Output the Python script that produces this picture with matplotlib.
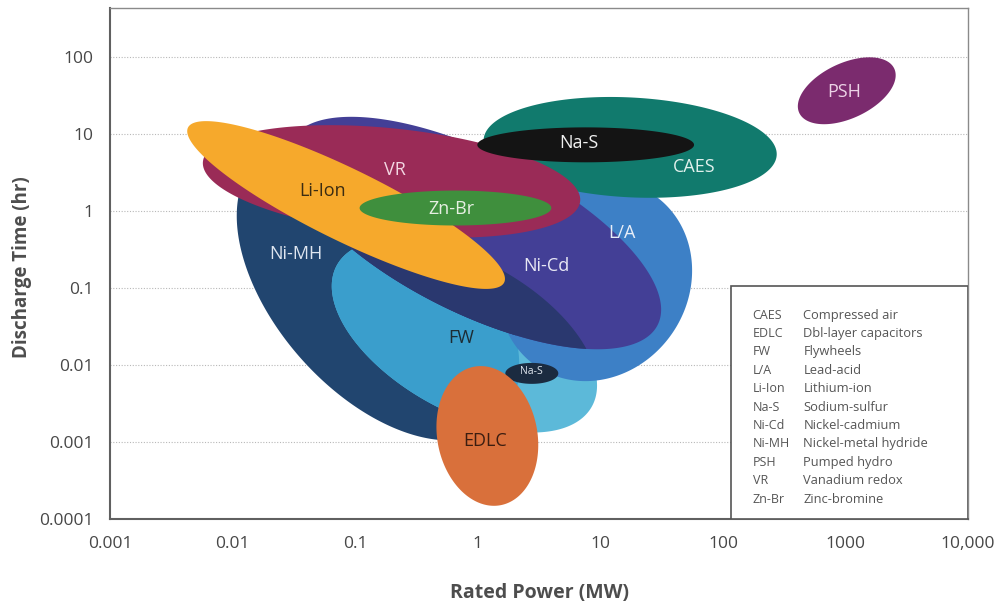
import numpy as np
import matplotlib
matplotlib.use("Agg")
import matplotlib.pyplot as plt
from matplotlib.patches import Rectangle

plt.rcParams['font.family'] = ['Open Sans', 'DejaVu Sans']

# ---------------- data ----------------
# technology regions: centre power (MW), centre discharge time (hr),
# semi-axes (in decades of power), tilt (deg, counter-clockwise)
techs       = ["L/A", "Ni-Cd", "Ni-MH", "FW", "CAES", "VR", "Li-Ion", "Zn-Br", "Na-S", "Na-S small", "EDLC", "PSH"]
power_c     = [9.08,  0.937,  0.1535,  0.778,  17.5,  0.198, 0.0843,  0.658,  7.59,   2.76,   1.197,  1023]
time_c      = [0.125, 0.519,  0.0925,  0.0240, 6.73,  2.43,  1.20,    1.097,  7.26,   0.0078, 0.0012, 36.6]
major_dec   = [0.847, 1.673,  1.455,   1.189,  1.197, 1.547, 1.436,   0.782,  0.884,  0.216,  0.575,  0.4275]
minor_dec   = [0.761, 0.650,  0.837,   0.616,  0.407, 0.432, 0.293,   0.1425, 0.1425, 0.0855, 0.408,  0.2256]
tilt_deg    = [55,    -26.6,  -48.3,   -29,    -3,    -6,    -26.1,   0,      0,      0,      -79,    25]

# label anchor points (power MW, time hr)
label_text  = ["L/A", "Ni-Cd", "Ni-MH", "FW", "CAES", "VR", "Li-Ion", "Zn-Br", "Na-S", "Na-S", "EDLC", "PSH"]
label_power = [15.0,  3.62,   0.0328,  0.735, 58,    0.213, 0.0543,  0.610,  6.71,   2.76,    1.15,    966]
label_time  = [0.526, 0.196,  0.281,   0.0226, 3.70, 3.38,  1.85,    1.08,   7.59,   0.00815, 0.00103, 35.0]

x_ticks = [0.001, 0.01, 0.1, 1, 10, 100, 1000, 10000]
x_ticklabels = ["0.001", "0.01", "0.1", "1", "10", "100", "1000", "10,000"]
y_ticks = [0.0001, 0.001, 0.01, 0.1, 1, 10, 100]
y_ticklabels = ["0.0001", "0.001", "0.01", "0.1", "1", "10", "100"]

legend_abbr = ["CAES", "EDLC", "FW", "L/A", "Li-Ion", "Na-S", "Ni-Cd", "Ni-MH", "PSH", "VR", "Zn-Br"]
legend_desc = ["Compressed air", "Dbl-layer capacitors", "Flywheels", "Lead-acid", "Lithium-ion",
               "Sodium-sulfur", "Nickel-cadmium", "Nickel-metal hydride", "Pumped hydro",
               "Vanadium redox", "Zinc-bromine"]

# ---------------- styles ----------------
fill_colors = {"L/A": '#3d80c6', "Ni-Cd": '#433f96', "Ni-MH": '#21456f', "FW": '#5cb9d9',
               "CAES": '#117a6d', "VR": '#9a2b57', "Li-Ion": '#f6a92c', "Zn-Br": '#3f8f3d',
               "Na-S": '#141414', "Na-S small": '#1b2b40', "EDLC": '#d9703b', "PSH": '#7b2b6e'}
overlap_fw_nimh = '#3a9ecc'    # flywheel area lying over Ni-MH
overlap_dark = '#2a386f'       # Ni-Cd area lying over FW / Ni-MH
label_colors = ['#e8eef8', '#e8e8f4', '#dfe6f0', '#1d2c33', '#e0f0ec', '#f3d6e2',
                '#3b2c12', '#e6efe2', '#f0f0f0', '#e0e6ee', '#3b1d10', '#ecd3e6']
label_sizes = [13, 13, 13, 13, 13, 13, 13, 13, 13, 7.5, 13, 13]

XLIM = (1e-3, 1e4)
YLIM = (1e-4, 10 ** 2.638)

fig = plt.figure(figsize=(9.99, 6.05), dpi=100)
ax_rect = [0.1101, 0.1421, 0.859, 0.8446]
ax = fig.add_axes(ax_rect)
ax.set_xscale('log')
ax.set_yscale('log')
ax.set_xlim(*XLIM)
ax.set_ylim(*YLIM)

# display length of one decade in x and in y (to draw undistorted tilted ellipses)
w_in = fig.get_figwidth() * ax_rect[2]
h_in = fig.get_figheight() * ax_rect[3]
ratio = (w_in / np.log10(XLIM[1] / XLIM[0])) / (h_in / np.log10(YLIM[1] / YLIM[0]))

t = np.linspace(0, 2 * np.pi, 600)
shape = {}
for i, name in enumerate(techs):
    th = np.deg2rad(tilt_deg[i])
    u = major_dec[i] * np.cos(t)
    v = minor_dec[i] * np.sin(t)
    X = u * np.cos(th) - v * np.sin(th)
    Y = u * np.sin(th) + v * np.cos(th)
    shape[name] = (10 ** (np.log10(power_c[i]) + X), 10 ** (np.log10(time_c[i]) + Y * ratio))

z = [2.0]
def draw(name, color=None, clip=None):
    z[0] += 0.01
    p = ax.fill(*shape[name], color=color or fill_colors[name], lw=0, zorder=z[0])[0]
    if clip is not None:
        p.set_clip_path(clip)
    return p

p_nimh = draw("Ni-MH")
p_fw = draw("FW")
draw("FW", overlap_fw_nimh, clip=p_nimh)
draw("L/A")
p_nicd = draw("Ni-Cd")
draw("FW", overlap_dark, clip=p_nicd)
draw("Ni-MH", overlap_dark, clip=p_nicd)
for name in ["CAES", "VR", "Li-Ion", "Zn-Br", "Na-S", "Na-S small", "EDLC", "PSH"]:
    draw(name)

for i in range(len(label_text)):
    ax.text(label_power[i], label_time[i], label_text[i], color=label_colors[i],
            fontsize=label_sizes[i], ha='center', va='center', zorder=3)

# grid
for yv in y_ticks[1:]:
    ax.axhline(yv, color='#b8b8b8', lw=0.8, ls=(0, (1, 1.5)), zorder=1)

# axes styling
ax.set_xticks(x_ticks)
ax.set_xticklabels(x_ticklabels)
ax.set_yticks(y_ticks)
ax.set_yticklabels(y_ticklabels)
ax.minorticks_off()
ax.tick_params(axis='both', length=0, labelsize=12.5, colors='#474747')
ax.tick_params(axis='x', pad=12)
ax.tick_params(axis='y', pad=12)
for s in ['left', 'bottom']:
    ax.spines[s].set_color('#606060')
    ax.spines[s].set_linewidth(1.5)
for s in ['top', 'right']:
    ax.spines[s].set_color('#8a8a8a')
    ax.spines[s].set_linewidth(1.0)

# legend box
lx0 = 0.724
ax.add_patch(Rectangle((lx0, 0), 1 - lx0, 0.456, transform=ax.transAxes,
                       facecolor='white', edgecolor='#555555', lw=1.2, zorder=4))
for i, (ab, de) in enumerate(zip(legend_abbr, legend_desc)):
    yy = (519 - (315 + 18.4 * i)) / 511.0
    ax.text(0.749, yy, ab, transform=ax.transAxes, fontsize=9, color='#555555',
            va='center', ha='left', zorder=5)
    ax.text(0.808, yy, de, transform=ax.transAxes, fontsize=9.3, color='#555555',
            va='center', ha='left', zorder=5)

fig.text(540 / 999, 1 - 593 / 605, "Rated Power (MW)", fontsize=14, fontweight='bold',
         color='#4d4d4d', ha='center', va='center')
fig.text(22 / 999, 1 - 267 / 605, "Discharge Time (hr)", fontsize=13.5, fontweight='bold',
         color='#4d4d4d', ha='center', va='center', rotation=90)

fig.savefig("out.png", dpi=100)
